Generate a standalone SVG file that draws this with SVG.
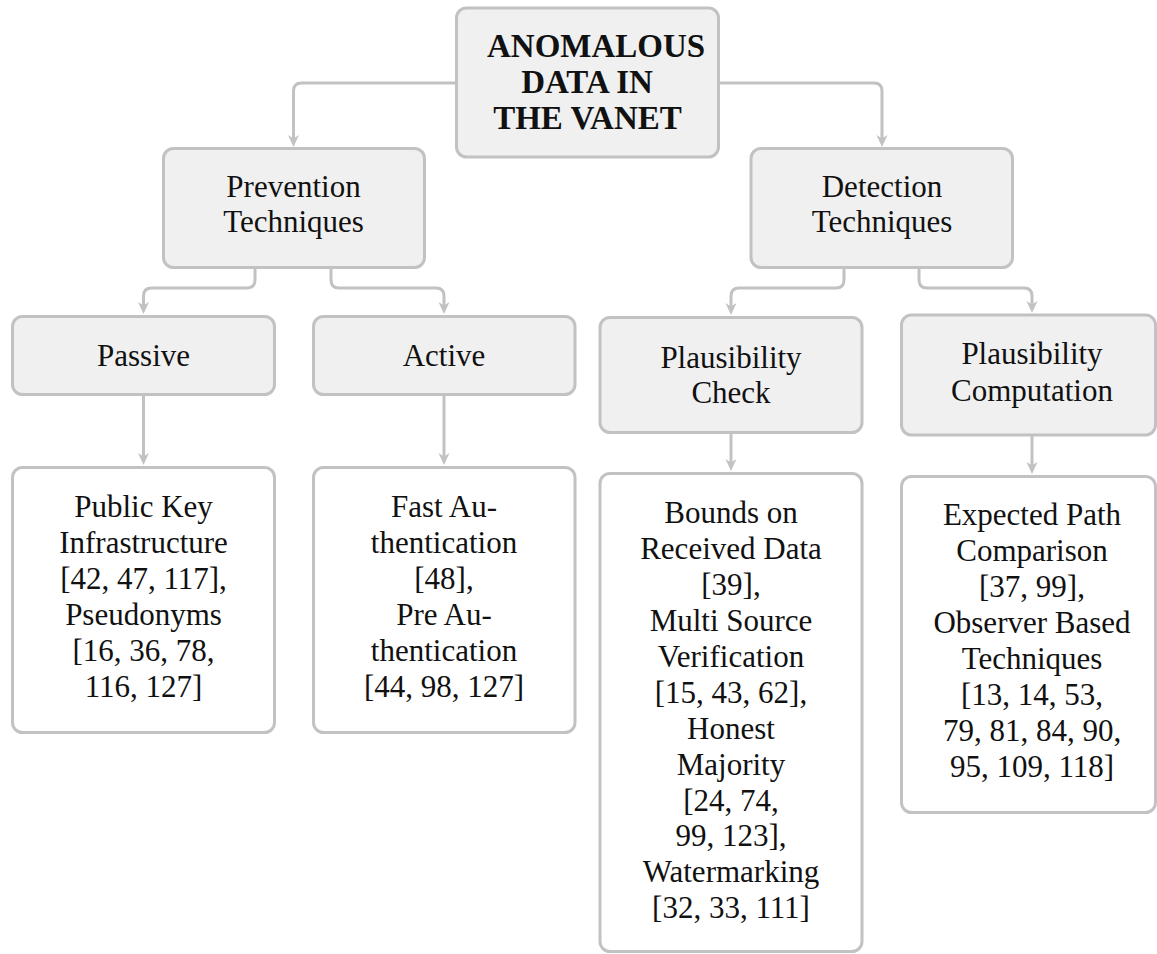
<svg xmlns="http://www.w3.org/2000/svg" width="1157" height="954" viewBox="0 0 1157 954">
<style>
.box{stroke:#c2c2c2;stroke-width:3;}
.upper{fill:#f0f0f0;}
.lower{fill:#ffffff;}
.t{font-family:"Liberation Serif","Times New Roman",serif;font-size:31px;fill:#111;text-anchor:middle;}
.tb{font-family:"Liberation Serif","Times New Roman",serif;font-size:33px;font-weight:bold;fill:#111;}
.edge{fill:none;stroke:#c2c2c2;stroke-width:3;}
</style>
<defs>
<marker id="arr" markerUnits="userSpaceOnUse" viewBox="-14 -7 16 14" markerWidth="16" markerHeight="14" refX="-7" refY="0" orient="auto" overflow="visible">
<path d="M0,0 L-12,-5.5 L-8.5,0 L-12,5.5 Z" fill="#c2c2c2"/>
</marker>
</defs>
<rect width="1157" height="954" fill="#ffffff"/>
<g id="connectors">
<path class="edge" marker-end="url(#arr)" d="M456,83 H301.5 Q293.5,83 293.5,91 V140"/>
<path class="edge" marker-end="url(#arr)" d="M719,83 H874 Q882,83 882,91 V140"/>
<path class="edge" marker-end="url(#arr)" d="M255,268 V280 Q255,288 247,288 H151.5 Q143.5,288 143.5,296 V307"/>
<path class="edge" marker-end="url(#arr)" d="M331,268 V280 Q331,288 339,288 H436 Q444,288 444,296 V307"/>
<path class="edge" marker-end="url(#arr)" d="M844,268 V280 Q844,288 836,288 H739 Q731,288 731,296 V308"/>
<path class="edge" marker-end="url(#arr)" d="M919,268 V280 Q919,288 927,288 H1024 Q1032,288 1032,296 V306"/>
<path class="edge" marker-end="url(#arr)" d="M143.5,395 V458"/>
<path class="edge" marker-end="url(#arr)" d="M444,395 V458"/>
<path class="edge" marker-end="url(#arr)" d="M731,433 V464"/>
<path class="edge" marker-end="url(#arr)" d="M1032,435 V467"/>
</g>
<g id="root">
<rect class="box upper" x="456.5" y="8" width="262" height="149" rx="10"/>
<text class="tb" x="487" y="57">ANOMALOUS</text>
<text class="tb" x="587" y="93" text-anchor="middle">DATA IN</text>
<text class="tb" x="587.5" y="128.5" text-anchor="middle">THE VANET</text>
</g>
<g id="prevention">
<rect class="box upper" x="163.5" y="148.5" width="261" height="119" rx="10"/>
<text class="t" x="293.5" y="197">Prevention</text>
<text class="t" x="293.5" y="232">Techniques</text>
</g>
<g id="detection">
<rect class="box upper" x="751" y="148.5" width="261.5" height="119" rx="10"/>
<text class="t" x="882" y="197">Detection</text>
<text class="t" x="882" y="232">Techniques</text>
</g>
<g id="passive">
<rect class="box upper" x="12.5" y="316.5" width="262" height="78" rx="10"/>
<text class="t" x="143.5" y="366">Passive</text>
</g>
<g id="active">
<rect class="box upper" x="313.5" y="316.5" width="261.5" height="78" rx="10"/>
<text class="t" x="444" y="366">Active</text>
</g>
<g id="plausibility-check">
<rect class="box upper" x="600" y="317.5" width="262" height="115" rx="10"/>
<text class="t" x="731" y="367.5">Plausibility</text>
<text class="t" x="731" y="403">Check</text>
</g>
<g id="plausibility-computation">
<rect class="box upper" x="901.5" y="315" width="254" height="120" rx="10"/>
<text class="t" x="1032" y="364">Plausibility</text>
<text class="t" x="1032" y="400.5">Computation</text>
</g>
<g id="passive-list">
<rect class="box lower" x="12.5" y="467.5" width="262" height="265" rx="10"/>
<text class="t" x="143.5" y="516.7">Public Key</text>
<text class="t" x="143.5" y="552.7">Infrastructure</text>
<text class="t" x="143.5" y="588.7">[42, 47, 117],</text>
<text class="t" x="143.5" y="624.7">Pseudonyms</text>
<text class="t" x="143.5" y="660.7">[16, 36, 78,</text>
<text class="t" x="143.5" y="696.7">116, 127]</text>
</g>
<g id="active-list">
<rect class="box lower" x="313.5" y="467.5" width="261.5" height="265" rx="10"/>
<text class="t" x="444" y="516.7">Fast Au-</text>
<text class="t" x="444" y="552.7">thentication</text>
<text class="t" x="444" y="588.7">[48],</text>
<text class="t" x="444" y="624.7">Pre Au-</text>
<text class="t" x="444" y="660.7">thentication</text>
<text class="t" x="444" y="696.7">[44, 98, 127]</text>
</g>
<g id="check-list">
<rect class="box lower" x="600" y="473.5" width="262" height="478" rx="10"/>
<text class="t" x="731" y="523.3">Bounds on</text>
<text class="t" x="731" y="559.2">Received Data</text>
<text class="t" x="731" y="595.1">[39],</text>
<text class="t" x="731" y="631">Multi Source</text>
<text class="t" x="731" y="666.9">Verification</text>
<text class="t" x="731" y="702.8">[15, 43, 62],</text>
<text class="t" x="731" y="738.7">Honest</text>
<text class="t" x="731" y="774.6">Majority</text>
<text class="t" x="731" y="810.5">[24, 74,</text>
<text class="t" x="731" y="846.4">99, 123],</text>
<text class="t" x="731" y="882.3">Watermarking</text>
<text class="t" x="731" y="918.2">[32, 33, 111]</text>
</g>
<g id="computation-list">
<rect class="box lower" x="901.5" y="476.5" width="254" height="336" rx="10"/>
<text class="t" x="1032" y="525">Expected Path</text>
<text class="t" x="1032" y="561">Comparison</text>
<text class="t" x="1032" y="597">[37, 99],</text>
<text class="t" x="1032" y="633">Observer Based</text>
<text class="t" x="1032" y="669">Techniques</text>
<text class="t" x="1032" y="705">[13, 14, 53,</text>
<text class="t" x="1032" y="741">79, 81, 84, 90,</text>
<text class="t" x="1032" y="777">95, 109, 118]</text>
</g>
</svg>
